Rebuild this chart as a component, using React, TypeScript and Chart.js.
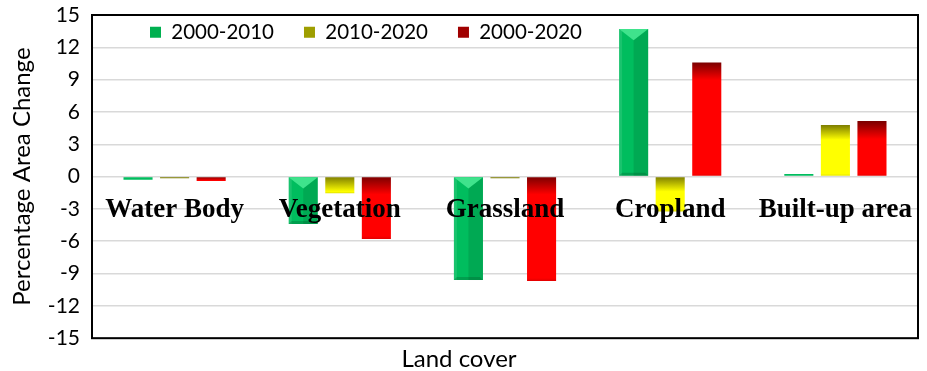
import React, { useEffect, useRef } from 'react';
import { Chart, registerables } from 'chart.js';

Chart.register(...registerables);

// ---- data ----
const categories = ['Water Body', 'Vegetation', 'Grassland', 'Cropland', 'Built-up area'];
const seriesLabels = ['2000-2010', '2010-2020', '2000-2020'];
const change2000to2010 = [-0.3, -4.4, -9.6, 13.7, 0.25];
const change2010to2020 = [-0.15, -1.55, -0.15, -3.25, 4.8];
const change2000to2020 = [-0.4, -5.8, -9.7, 10.6, 5.15];
const yMin = -15;
const yMax = 15;
const yStep = 3;
const yTitle = 'Percentage Area Change';
const xTitle = 'Land cover';

// ---- styles ----
const legendColors = ['#00b050', '#9e9e00', '#a00000'];
const SANS = 'Lato, "Open Sans", sans-serif';
const SERIF = '"Liberation Serif", "Times New Roman", serif';

function clamp(v: number, a: number, b: number) {
  return Math.max(a, Math.min(b, v));
}

function verticalFill(darkTop: string, bright: string, darkBottom: string, fadeLen: number) {
  return (c: any) => {
    const chart = c.chart;
    const y = chart.scales && chart.scales.y;
    if (c.type !== 'data' || !y || !chart.chartArea) return bright;
    const v = c.raw as number;
    const p0 = y.getPixelForValue(0);
    const p1 = y.getPixelForValue(v);
    const top = Math.min(p0, p1);
    const bottom = Math.max(p0, p1);
    const h = bottom - top;
    if (h < 2) return darkTop;
    const g = chart.ctx.createLinearGradient(0, top, 0, bottom);
    const s1 = clamp(fadeLen / h, 0, 0.9);
    const s2 = clamp(1 - 3 / h, s1, 1);
    g.addColorStop(0, darkTop);
    g.addColorStop(s1, bright);
    g.addColorStop(s2, bright);
    g.addColorStop(1, darkBottom);
    return g;
  };
}

// green bars get a bevel (lighter top triangle, darker right half)
const bevelPlugin = {
  id: 'bevel',
  afterDatasetsDraw(chart: any) {
    const meta = chart.getDatasetMeta(0);
    const ctx = chart.ctx;
    ctx.save();
    meta.data.forEach((bar: any) => {
      const { x, y, base, width } = bar.getProps(['x', 'y', 'base', 'width'], true);
      const top = Math.min(y, base);
      const bottom = Math.max(y, base);
      const h = bottom - top;
      if (h < 5) return;
      const l = x - width / 2;
      const r = x + width / 2;
      ctx.fillStyle = 'rgba(0,70,30,0.16)';
      ctx.fillRect(x, top, r - x, h);
      ctx.fillStyle = 'rgba(255,255,255,0.10)';
      ctx.fillRect(l, top, 3, h);
      const d = Math.min(width / 2.6, h / 2);
      ctx.fillStyle = '#3fe38c';
      ctx.beginPath();
      ctx.moveTo(l, top);
      ctx.lineTo(r, top);
      ctx.lineTo(x, top + d);
      ctx.closePath();
      ctx.fill();
      const d2 = Math.min(3, h / 4);
      ctx.fillStyle = 'rgba(0,70,30,0.25)';
      ctx.beginPath();
      ctx.moveTo(l, bottom);
      ctx.lineTo(r, bottom);
      ctx.lineTo(r - d2, bottom - d2);
      ctx.lineTo(l + d2, bottom - d2);
      ctx.closePath();
      ctx.fill();
    });
    ctx.restore();
  },
};

const framePlugin = {
  id: 'frame',
  afterDraw(chart: any) {
    const { left, top, right, bottom } = chart.chartArea;
    const ctx = chart.ctx;
    ctx.save();
    ctx.strokeStyle = '#000';
    ctx.lineWidth = 2;
    ctx.strokeRect(left, top, right - left, bottom - top);
    ctx.restore();
  },
};

// legend drawn inside the plot area
const legendInsidePlugin = {
  id: 'legendInside',
  beforeInit(chart: any) {
    const lg = chart.legend;
    if (!lg) return;
    const origFit = lg.fit;
    lg.fit = function () {
      origFit.call(this);
      this._realHeight = this.height;
      this.height = 0;
    };
  },
  afterLayout(chart: any) {
    const lg = chart.legend;
    if (!lg) return;
    const ca = chart.chartArea;
    lg.left = ca.left + 28;
    lg.right = ca.right;
    lg.width = lg.right - lg.left;
    lg.top = -8;
    lg.height = lg._realHeight;
    lg.bottom = lg.top + lg._realHeight;
  },
};

export default function App() {
  const ref = useRef<HTMLCanvasElement | null>(null);

  useEffect(() => {
    if (!ref.current) return;
    const chart = new Chart(ref.current, {
      type: 'bar',
      data: {
        labels: categories,
        datasets: [
          {
            label: seriesLabels[0],
            data: change2000to2010,
            backgroundColor: '#00bd5e',
            borderWidth: 0,
            categoryPercentage: 0.664,
            barPercentage: 0.795,
          },
          {
            label: seriesLabels[1],
            data: change2010to2020,
            backgroundColor: verticalFill('#7c7c00', '#ffff00', '#dede00', 15),
            borderWidth: 0,
            categoryPercentage: 0.664,
            barPercentage: 0.795,
          },
          {
            label: seriesLabels[2],
            data: change2000to2020,
            backgroundColor: verticalFill('#7a0000', '#ff0000', '#e00000', 18),
            borderWidth: 0,
            categoryPercentage: 0.664,
            barPercentage: 0.795,
          },
        ],
      },
      options: {
        responsive: false,
        animation: false,
        devicePixelRatio: 1,
        layout: { padding: { top: 15, right: 9, left: 0, bottom: 0 } },
        plugins: {
          legend: {
            position: 'top',
            align: 'start',
            labels: {
              boxWidth: 11,
              boxHeight: 11,
              padding: 30,
              color: '#000',
              font: { family: SANS, size: 20.5 },
              generateLabels: (ch: any) =>
                Chart.defaults.plugins.legend.labels.generateLabels(ch).map((item: any, i: number) => ({
                  ...item,
                  fillStyle: legendColors[i],
                  strokeStyle: legendColors[i],
                  lineWidth: 0,
                })),
            },
          },
          title: {
            display: true,
            position: 'bottom',
            text: xTitle,
            color: '#000',
            font: { family: SANS, size: 24, weight: 'normal' },
            padding: { top: 7, bottom: -3 },
          },
          tooltip: { enabled: false },
        },
        scales: {
          x: {
            type: 'category',
            position: { y: 0 },
            grid: { display: false, drawTicks: false },
            border: { display: false },
            ticks: {
              z: 1,
              color: '#000',
              font: { family: SERIF, size: 27, weight: 'bold' },
              padding: 17,
              maxRotation: 0,
              minRotation: 0,
              autoSkip: false,
            },
            afterFit: (s: any) => {
              s.height = 0;
              s.paddingLeft = 0;
              s.paddingRight = 0;
            },
          },
          y: {
            min: yMin,
            max: yMax,
            ticks: {
              stepSize: yStep,
              color: '#000',
              font: { family: SANS, size: 21 },
              padding: 12,
            },
            grid: { color: '#d9d9d9', lineWidth: 1.5, drawTicks: false },
            border: { display: false },
            title: {
              display: true,
              text: yTitle,
              color: '#000',
              font: { family: SANS, size: 24, weight: 'normal' },
              padding: { top: 8, bottom: 0 },
            },
            afterFit: (s: any) => {
              s.width = 92;
              s.paddingTop = 0;
              s.paddingBottom = 0;
            },
          },
        },
      } as any,
      plugins: [legendInsidePlugin, bevelPlugin, framePlugin],
    });
    return () => chart.destroy();
  }, []);

  return (
    <div style={{ position: 'absolute', left: 0, top: 0, width: 927, height: 371, background: '#fff' }}>
      <canvas ref={ref} width={927} height={371} style={{ display: 'block' }} />
    </div>
  );
}
